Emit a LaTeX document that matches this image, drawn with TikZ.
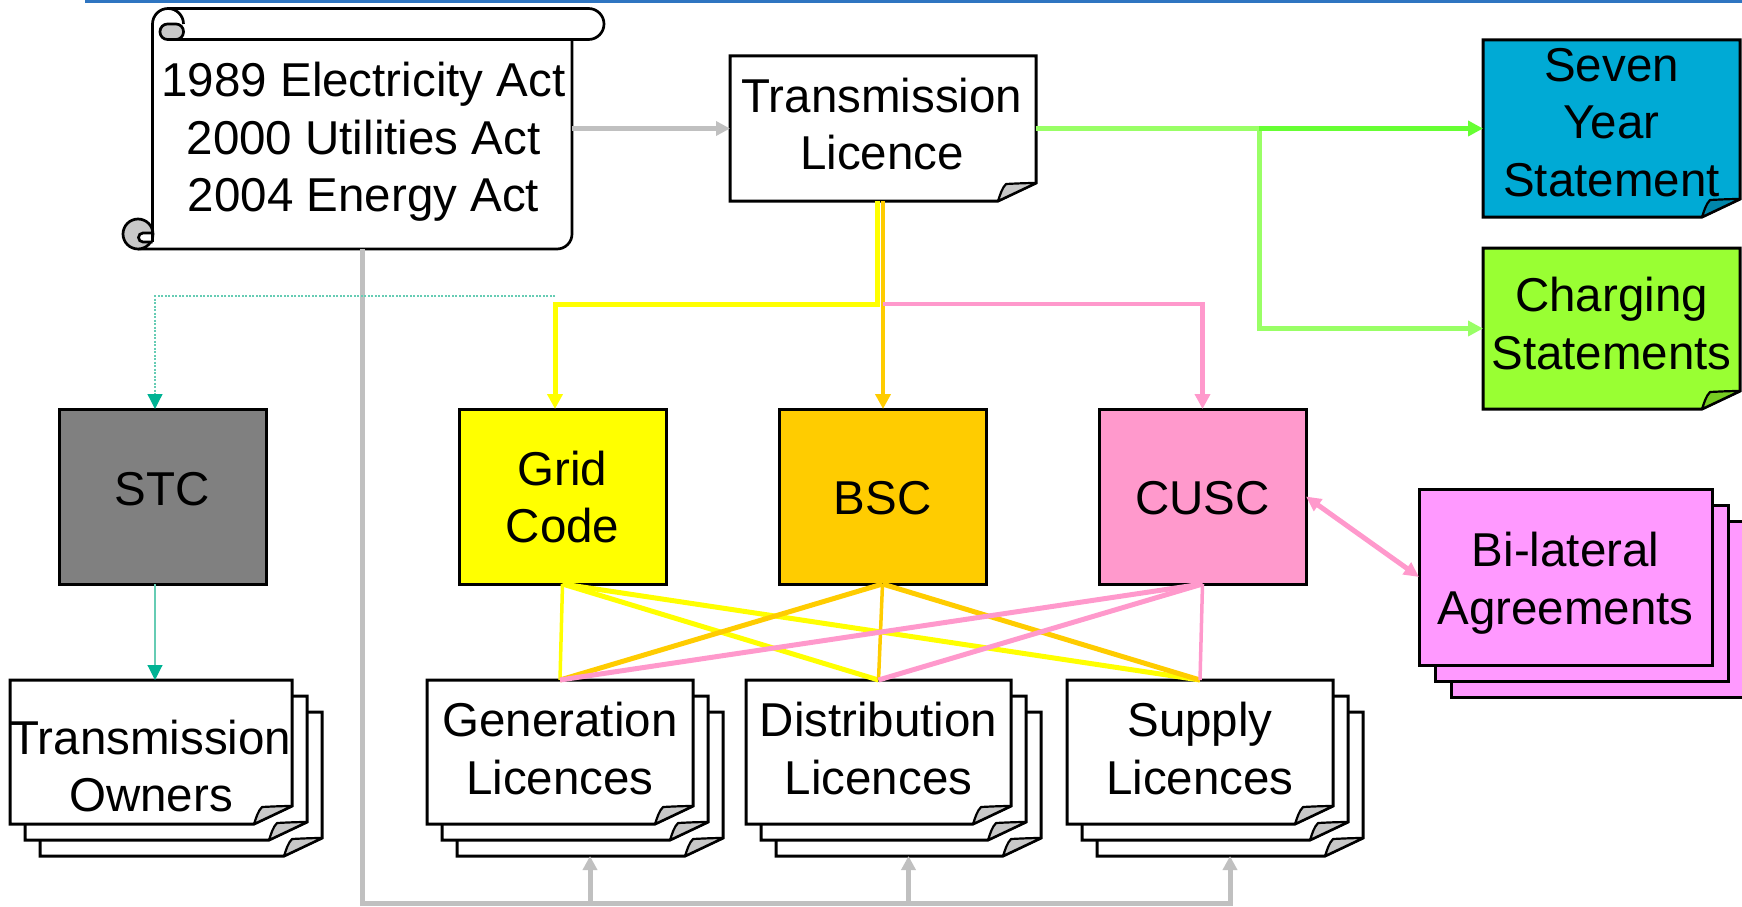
\documentclass[tikz,border=0pt]{standalone}
\usepackage{fontspec}
\setmainfont{Liberation Sans}
\usetikzlibrary{arrows.meta}
\definecolor{topblue}{HTML}{2E75C1}
\definecolor{linegray}{HTML}{C0C0C0}
\definecolor{foldgray}{HTML}{C8C8C8}
\definecolor{lgreen}{HTML}{99FF66}
\definecolor{bgreen}{HTML}{66FF33}
\definecolor{yel}{HTML}{FFFF00}
\definecolor{ora}{HTML}{FFCC00}
\definecolor{pnk}{HTML}{FF99CC}
\definecolor{mag}{HTML}{FF99FF}
\definecolor{tealtip}{HTML}{00B394}
\definecolor{teallight}{HTML}{66CCB4}
\definecolor{stcgray}{HTML}{808080}
\definecolor{sysblue}{HTML}{00AAD5}
\definecolor{sysfold}{HTML}{0086AA}
\definecolor{csgreen}{HTML}{99FF33}
\definecolor{csfold}{HTML}{77CC22}
\newcommand\bigtxt{\fontsize{47.5}{57.5}\selectfont}
\newcommand\foldpage[3]{%
  \draw[pageline, fill=#2] (#1.north west) -- (#1.north east) -- ([yshift=18pt]#1.south east) -- ([xshift=-38pt]#1.south east) -- (#1.south west) -- cycle;
  \draw[foldline, fill=#3] ([xshift=-38pt]#1.south east) .. controls ([xshift=-36pt,yshift=6pt]#1.south east) and ([xshift=-34pt,yshift=13pt]#1.south east) .. ([xshift=-30pt,yshift=17pt]#1.south east) .. controls ([xshift=-20pt,yshift=17.5pt]#1.south east) and ([xshift=-10pt,yshift=18pt]#1.south east) .. ([yshift=18pt]#1.south east) -- cycle;
}
\tikzset{
  every node/.style={inner sep=0pt, outer sep=0pt},
  txt/.style={font=\bigtxt, align=center, text depth=0pt, text=black},
  box/.style={draw=black, line width=3pt},
  pageline/.style={draw=black, line width=3pt, line join=miter},
  foldline/.style={draw=black, line width=2.2pt, line join=round},
  scrollline/.style={draw=black, line width=2.7pt},
  grayl/.style={draw=linegray, line width=5pt},
  lgr/.style={draw=lgreen, line width=5pt},
  bgr/.style={draw=bgreen, line width=5pt},
  yl/.style={draw=yel, line width=5pt},
  orl/.style={draw=ora, line width=4.5pt},
  pkl/.style={draw=pnk, line width=4.5pt},
  gtip/.style={-{Triangle[length=14pt,width=14pt]}},
  ttip/.style={-{Triangle[length=15pt,width=15pt]}},
  tealdot/.style={draw=teallight, line width=1.3pt, dash pattern=on 2pt off 1.5pt},
  tealthin/.style={draw=teallight, line width=1.1pt},
  tealhead/.style={-{Triangle[length=15pt,width=15pt,color=tealtip]}},
}
\begin{document}
\begin{tikzpicture}[x=1pt,y=-1pt]
\useasboundingbox (0,0) rectangle (1742,907);
\coordinate (blueA) at (85,1.5);
\coordinate (blueB) at (1742,1.5);
\draw[topblue, line width=3pt] (blueA) -- (blueB);

% ---------- scroll ----------
\node[minimum width=419.5pt, minimum height=225pt] (scroll) at (362.25,136.5) {};
\fill[white] (152.5,24) -- (152.5,249) -- (557,249) arc[start angle=-90,end angle=0,radius=15pt] -- (572,24) -- cycle;
\draw[scrollline] (138,249) -- (557,249) arc[start angle=-90,end angle=0,radius=15pt] -- (572,39.5);
\draw[scrollline, fill=white] (168,39.5) -- (588.5,39.5) arc[start angle=-90,end angle=90,radius=15.5pt] -- (168,8.5) arc[start angle=90,end angle=180,radius=15.5pt];
\draw[scrollline] (168,8.5) arc[start angle=90,end angle=0,radius=15.5pt];
\draw[scrollline, fill=foldgray, rounded corners=7.5pt] (160,24) rectangle (183.5,39.5);
\draw[scrollline, fill=foldgray] (138,234) circle[radius=15pt];
\draw[scrollline, fill=white] (152.5,233) -- (143,233) arc[start angle=90,end angle=270,radius=4.5pt] -- (152.5,242);
\draw[scrollline] (152.5,24) -- (152.5,242);
\node[txt] (scroll-t) at (363.5,137) {1989 Electricity Act\\2000 Utilities Act\\2004 Energy Act};

% ---------- transmission licence ----------
\node[minimum width=306pt, minimum height=145pt] (tl) at (883,128.5) {};
\foldpage{tl}{white}{foldgray}
\node[txt] (tl-t) at (882,124) {Transmission\\Licence};

% ---------- seven year / charging ----------
\node[minimum width=257pt, minimum height=177pt] (sys) at (1611.5,128.5) {};
\foldpage{sys}{sysblue}{sysfold}
\node[txt] (sys-t) at (1611.5,122) {Seven\\Year\\Statement};
\node[minimum width=257pt, minimum height=161pt] (cs) at (1611.5,328.5) {};
\foldpage{cs}{csgreen}{csfold}
\node[txt] (cs-t) at (1611.5,323.5) {Charging\\Statements};

% ---------- codes ----------
\node[box, fill=stcgray, minimum width=207pt, minimum height=175pt] (stc) at (162.5,496.5) {};
\node[txt] (stc-t) at (162,489) {STC};
\node[box, fill=yel, minimum width=207pt, minimum height=175pt] (grid) at (562.5,496.5) {};
\node[txt] (grid-t) at (562.5,497) {Grid\\Code};
\node[box, fill=ora, minimum width=207pt, minimum height=175pt] (bsc) at (882.5,496.5) {};
\node[txt] (bsc-t) at (882.5,497.5) {BSC};
\node[box, fill=pnk, minimum width=207pt, minimum height=175pt] (cusc) at (1202.5,496.5) {};
\node[txt] (cusc-t) at (1202.5,497.5) {CUSC};

% ---------- bilateral ----------
\node[box, fill=mag, minimum width=293pt, minimum height=176pt] (bi3) at (1597.5,609) {};
\node[box, fill=mag, minimum width=293pt, minimum height=176pt] (bi2) at (1581.5,593) {};
\node[box, fill=mag, minimum width=293pt, minimum height=176pt] (bi1) at (1565.5,577) {};
\node[txt] (bi-t) at (1565.5,578.5) {Bi-lateral\\Agreements};

% ---------- licence stacks ----------
\node[minimum width=282pt, minimum height=144pt] (to3) at (181,784) {};
\foldpage{to3}{white}{foldgray}
\node[minimum width=282pt, minimum height=144pt] (to2) at (166,768) {};
\foldpage{to2}{white}{foldgray}
\node[minimum width=282pt, minimum height=144pt] (to1) at (151,752) {};
\foldpage{to1}{white}{foldgray}
\node[txt] (to-t) at (151,766) {Transmission\\Owners};

\node[minimum width=266pt, minimum height=144pt] (gen3) at (590,784) {};
\foldpage{gen3}{white}{foldgray}
\node[minimum width=266pt, minimum height=144pt] (gen2) at (575,768) {};
\foldpage{gen2}{white}{foldgray}
\node[minimum width=266pt, minimum height=144pt] (gen1) at (560,752) {};
\foldpage{gen1}{white}{foldgray}
\node[txt] (gen-t) at (560,748.5) {Generation\\Licences};

\node[minimum width=265pt, minimum height=144pt] (dis3) at (908.5,784) {};
\foldpage{dis3}{white}{foldgray}
\node[minimum width=265pt, minimum height=144pt] (dis2) at (893.5,768) {};
\foldpage{dis2}{white}{foldgray}
\node[minimum width=265pt, minimum height=144pt] (dis1) at (878.5,752) {};
\foldpage{dis1}{white}{foldgray}
\node[txt] (dis-t) at (878.5,748.5) {Distribution\\Licences};

\node[minimum width=266pt, minimum height=144pt] (sup3) at (1230,784) {};
\foldpage{sup3}{white}{foldgray}
\node[minimum width=266pt, minimum height=144pt] (sup2) at (1215,768) {};
\foldpage{sup2}{white}{foldgray}
\node[minimum width=266pt, minimum height=144pt] (sup1) at (1200,752) {};
\foldpage{sup1}{white}{foldgray}
\node[txt] (sup-t) at (1200,748.5) {Supply\\Licences};

% ---------- connectors ----------
\draw[grayl, gtip] (scroll.east |- tl.west) -- (tl.west);
\coordinate (bus) at (363,903);
\draw[grayl, gtip] (scroll.south) |- (sup3.south |- bus) -- (sup3.south);
\draw[grayl, gtip] (gen3.south |- bus) -- (gen3.south);
\draw[grayl, gtip] (dis3.south |- bus) -- (dis3.south);

\coordinate (gj) at (1259,128.5);
\draw[lgr] (tl.east) -- (gj);
\draw[lgr, ttip] (gj) |- (cs.west);
\draw[bgr, ttip] (gj) -- (sys.west);

\coordinate (yj) at (877,304);
\coordinate (pj) at (883,304);
\draw[yl, ttip] ([xshift=-6pt]tl.south) -- (yj) -| ([xshift=-7.5pt]grid.north);
\draw[orl, ttip] (tl.south) -- (tl.south |- bsc.north);
\draw[pkl, ttip] (pj) -| (cusc.north);

\coordinate (dotstart) at (555,296);
\draw[tealdot, tealhead] (dotstart) -| ([xshift=-7.5pt]stc.north);
\draw[tealthin, tealhead] ([xshift=-7.5pt]stc.south) -- ([xshift=-7.5pt]stc.south |- to1.north);

% code -> licence lines
\draw[yl, line width=3.5pt] (grid.south) -- (gen1.north);
\draw[yl, line width=5pt] (grid.south) -- (dis1.north);
\draw[yl, line width=5pt] (grid.south) -- (sup1.north);
\draw[orl, line width=5pt] (bsc.south) -- (gen1.north);
\draw[orl, line width=3.5pt] (bsc.south) -- (dis1.north);
\draw[orl, line width=5pt] (bsc.south) -- (sup1.north);
\draw[pkl, line width=5pt] (cusc.south) -- (gen1.north);
\draw[pkl, line width=5pt] (cusc.south) -- (dis1.north);
\draw[pkl, line width=3.5pt] (cusc.south) -- (sup1.north);

\draw[pkl, line width=5pt, {Triangle[length=15pt,width=14pt]}-{Triangle[length=15pt,width=14pt]}] (cusc.east) -- (bi1.west);
\end{tikzpicture}
\end{document}
